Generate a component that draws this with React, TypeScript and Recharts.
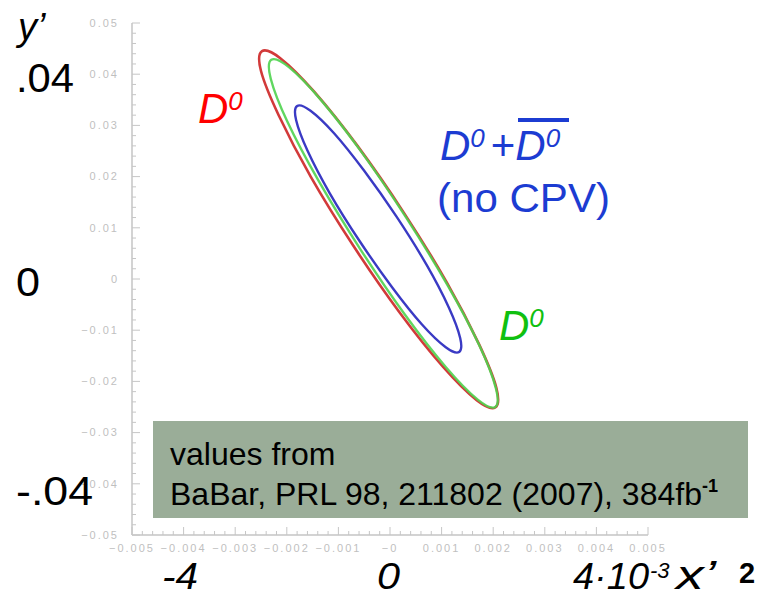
import React from 'react';
import { ComposedChart, Line, XAxis, YAxis } from 'recharts';

// Axis ranges: x'^2 horizontally, y' vertically
const X_DOMAIN: [number, number] = [-0.005, 0.005];
const Y_DOMAIN: [number, number] = [-0.05, 0.05];

const xMajorTicks = [-0.005, -0.004, -0.003, -0.002, -0.001, 0, 0.001, 0.002, 0.003, 0.004, 0.005];
const xTickLabels = ['−0.005', '−0.004', '−0.003', '−0.002', '−0.001', '−0', '0.001', '0.002', '0.003', '0.004', '0.005'];
const yMajorTicks = [-0.05, -0.04, -0.03, -0.02, -0.01, 0, 0.01, 0.02, 0.03, 0.04, 0.05];
const yTickLabels = ['−0.05', '−0.04', '−0.03', '−0.02', '−0.01', '0', '0.01', '0.02', '0.03', '0.04', '0.05'];

// minor tick spacing on each axis
const X_MINOR_STEP = 0.0002;
const Y_MINOR_STEP = 0.002;

// D0 contour (red)
const d0RedX = [0.00204, 0.00206, 0.00172, 0.0011, 0.00027, -0.00063, -0.00147, -0.00212, -0.00248, -0.0025, -0.00216, -0.00154, -0.00071, 0.00019, 0.00103, 0.00168];
const d0RedY = [-0.0251, -0.02122, -0.01263, -0.00065, 0.01292, 0.026, 0.03659, 0.04308, 0.0445, 0.04062, 0.03203, 0.02005, 0.00648, -0.0066, -0.01719, -0.02368];

// anti-D0 contour (green)
const d0GreenX = [0.00204, 0.00205, 0.00173, 0.00112, 0.00032, -0.00054, -0.00134, -0.00196, -0.0023, -0.00231, -0.00199, -0.00138, -0.00058, 0.00028, 0.00108, 0.0017];
const d0GreenY = [-0.025, -0.02127, -0.01295, -0.0013, 0.0119, 0.02464, 0.03499, 0.04137, 0.0428, 0.03907, 0.03075, 0.0191, 0.0059, -0.00684, -0.01719, -0.02357];

// combined contour, no CPV (blue)
const combinedX = [0.00134, 0.00136, 0.00114, 0.00071, 0.00013, -0.0005, -0.00108, -0.00154, -0.0018, -0.00182, -0.0016, -0.00117, -0.00059, 0.00004, 0.00062, 0.00108];
const combinedY = [-0.01426, -0.01153, -0.00556, 0.00275, 0.01212, 0.02114, 0.02843, 0.03287, 0.0338, 0.03107, 0.0251, 0.01679, 0.00742, -0.0016, -0.00889, -0.01333];

const toPoints = (xs: number[], ys: number[]) => xs.map((x, i) => ({ x, y: ys[i] }));

const redPts = toPoints(d0RedX, d0RedY);
const greenPts = toPoints(d0GreenX, d0GreenY);
const bluePts = toPoints(combinedX, combinedY);

const buildTicks = (lo: number, hi: number, step: number) => {
  const n = Math.round((hi - lo) / step);
  return Array.from({ length: n + 1 }, (_, i) => Math.round((lo + i * step) * 1e6) / 1e6);
};
const xAllTicks = buildTicks(X_DOMAIN[0], X_DOMAIN[1], X_MINOR_STEP);
const yAllTicks = buildTicks(Y_DOMAIN[0], Y_DOMAIN[1], Y_MINOR_STEP);

// closed Catmull-Rom curve through the contour points
const closedSmooth = (context: any) => {
  let pts: number[][] = [];
  return {
    areaStart() {},
    areaEnd() {},
    lineStart() {
      pts = [];
    },
    point(x: number, y: number) {
      pts.push([+x, +y]);
    },
    lineEnd() {
      const n = pts.length;
      if (!n) return;
      context.moveTo(pts[0][0], pts[0][1]);
      for (let i = 0; i < n; i++) {
        const p0 = pts[(i - 1 + n) % n];
        const p1 = pts[i];
        const p2 = pts[(i + 1) % n];
        const p3 = pts[(i + 2) % n];
        context.bezierCurveTo(
          p1[0] + (p2[0] - p0[0]) / 6,
          p1[1] + (p2[1] - p0[1]) / 6,
          p2[0] - (p3[0] - p1[0]) / 6,
          p2[1] - (p3[1] - p1[1]) / 6,
          p2[0],
          p2[1]
        );
      }
      context.closePath();
    },
  };
};

const TICK_FONT = "'Liberation Sans', Arial, sans-serif";
const TICK_COLOR = '#bfbfbf';
const Y_TICK_MARGIN = 13;
const X_TICK_MARGIN = 8;
const tickTextStyle = { letterSpacing: '2px' };

const findMajor = (list: number[], v: number) => list.findIndex((t) => Math.abs(t - v) < 1e-9);

function YTick(props: any) {
  const { x, y, payload } = props;
  const i = findMajor(yMajorTicks, payload.value);
  const axisX = x + Y_TICK_MARGIN;
  return (
    <g>
      <line x1={axisX} x2={axisX + (i >= 0 ? 8 : 4)} y1={y} y2={y} stroke="#c6c6c6" strokeWidth={1} />
      {i >= 0 && (
        <text x={x} y={y} dy="0.35em" textAnchor="end" fontFamily={TICK_FONT} fontSize={11} style={tickTextStyle} fill={TICK_COLOR}>
          {yTickLabels[i]}
        </text>
      )}
    </g>
  );
}

function XTick(props: any) {
  const { x, y, payload } = props;
  const i = findMajor(xMajorTicks, payload.value);
  const axisY = y - X_TICK_MARGIN;
  return (
    <g>
      <line x1={x} x2={x} y1={axisY} y2={axisY - (i >= 0 ? 8 : 4)} stroke="#c6c6c6" strokeWidth={1} />
      {i >= 0 && (
        <text x={x} y={y + 9} textAnchor="middle" fontFamily={TICK_FONT} fontSize={11} style={tickTextStyle} fill={TICK_COLOR}>
          {xTickLabels[i]}
        </text>
      )}
    </g>
  );
}

const BIG_FONT = "'Liberation Sans', Arial, sans-serif";
const RED = '#ff0000';
const BLUE = '#1c3cd2';
const GREEN = '#10c010';

export default function App() {
  return (
    <div style={{ position: 'absolute', left: 0, top: 0, width: 773, height: 598, background: '#ffffff', overflow: 'hidden' }}>
      <div style={{ position: 'absolute', left: 153, top: 421, width: 595, height: 97, background: '#9aad98' }} />
      <div style={{ position: 'absolute', left: 0, top: 0 }}>
        <ComposedChart width={773} height={598} margin={{ top: 23, right: 125, bottom: 38, left: 87 }}>
          <XAxis
            xAxisId={0}
            type="number"
            dataKey="x"
            domain={X_DOMAIN}
            allowDataOverflow
            ticks={xAllTicks}
            interval={0}
            tickLine={false}
            tickSize={0}
            tickMargin={X_TICK_MARGIN}
            height={25}
            axisLine={{ stroke: '#c4c4c4', strokeWidth: 1.5 }}
            tick={<XTick />}
          />
          <XAxis
            xAxisId="top"
            orientation="top"
            type="number"
            dataKey="x"
            domain={X_DOMAIN}
            allowDataOverflow
            height={0}
            tick={false}
            tickLine={false}
            axisLine={{ stroke: '#000000', strokeOpacity: 0.18, strokeWidth: 2 }}
          />
          <YAxis
            yAxisId={0}
            type="number"
            dataKey="y"
            domain={Y_DOMAIN}
            allowDataOverflow
            ticks={yAllTicks}
            interval={0}
            tickLine={false}
            tickSize={0}
            tickMargin={Y_TICK_MARGIN}
            width={45}
            axisLine={{ stroke: '#c4c4c4', strokeWidth: 1.5 }}
            tick={<YTick />}
          />
          <YAxis
            yAxisId="right"
            orientation="right"
            type="number"
            domain={Y_DOMAIN}
            allowDataOverflow
            width={0}
            tick={false}
            tickLine={false}
            axisLine={{ stroke: '#000000', strokeOpacity: 0.18, strokeWidth: 2 }}
          />
          <Line data={redPts} dataKey="y" type={closedSmooth as any} stroke="#d23a3a" strokeWidth={2.6} dot={false} activeDot={false} isAnimationActive={false} />
          <Line data={greenPts} dataKey="y" type={closedSmooth as any} stroke="#4fd34f" strokeWidth={2.4} strokeOpacity={0.9} dot={false} activeDot={false} isAnimationActive={false} />
          <Line data={bluePts} dataKey="y" type={closedSmooth as any} stroke="#3a3ac4" strokeWidth={2.4} dot={false} activeDot={false} isAnimationActive={false} />
        </ComposedChart>
      </div>
      <svg width={773} height={598} style={{ position: 'absolute', left: 0, top: 0, pointerEvents: 'none' }} fontFamily={BIG_FONT}>
        {/* axis captions */}
        <text x={18} y={40} fontSize={38} fontStyle="italic" fill="#000">y’</text>
        <text x={16} y={92} fontSize={40} fill="#000" textLength={58} lengthAdjust="spacingAndGlyphs">.04</text>
        <text x={16} y={296} fontSize={40} fill="#000" textLength={24} lengthAdjust="spacingAndGlyphs">0</text>
        <text x={16} y={505} fontSize={40} fill="#000" textLength={77} lengthAdjust="spacingAndGlyphs">-.04</text>
        <text x={162} y={589} fontSize={37} fontStyle="italic" fill="#000" textLength={36} lengthAdjust="spacingAndGlyphs">-4</text>
        <text x={377} y={589} fontSize={37} fontStyle="italic" fill="#000" textLength={23} lengthAdjust="spacingAndGlyphs">0</text>
        <text x={573} y={589} fontSize={37} fontStyle="italic" fill="#000" textLength={76} lengthAdjust="spacingAndGlyphs">4·10</text>
        <text x={650} y={578} fontSize={22} fontStyle="italic" fill="#000">-3</text>
        <text x={676} y={589} fontSize={40} fontStyle="italic" fill="#000" textLength={40} lengthAdjust="spacingAndGlyphs">x’</text>
        <text x={739} y={583} fontSize={29} fontWeight="bold" fill="#000">2</text>

        {/* contour labels */}
        <text x={198} y={123} fontSize={42} fontStyle="italic" fill={RED}>
          D<tspan fontSize={26} dy={-13}>0</tspan>
        </text>
        <text x={440} y={160} fontSize={42} fontStyle="italic" fill={BLUE}>
          D<tspan fontSize={26} dy={-13}>0</tspan>
          <tspan fontStyle="normal" dy={13} dx={6}>+</tspan>
          <tspan>D</tspan>
          <tspan fontSize={26} dy={-13}>0</tspan>
        </text>
        <line x1={518} x2={569} y1={120} y2={120} stroke={BLUE} strokeWidth={4} />
        <text x={437} y={212} fontSize={40} fill={BLUE} textLength={173} lengthAdjust="spacingAndGlyphs">(no CPV)</text>
        <text x={499} y={340} fontSize={42} fontStyle="italic" fill={GREEN}>
          D<tspan fontSize={26} dy={-13}>0</tspan>
        </text>

        {/* source note */}
        <text x={170} y={465} fontSize={32} fill="#000">values from</text>
        <text x={170} y={505} fontSize={32} fill="#000">
          BaBar, PRL 98, 211802 (2007), 384fb
          <tspan fontSize={18} fontWeight="bold" dy={-13}>-1</tspan>
        </text>
      </svg>
    </div>
  );
}
